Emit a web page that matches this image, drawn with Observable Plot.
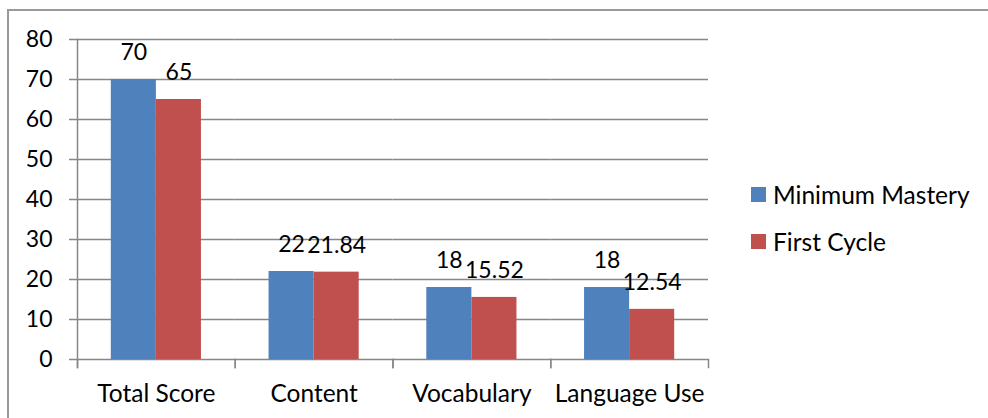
<!DOCTYPE html>
<html>
<head>
<meta charset="utf-8">
<script src="https://cdn.jsdelivr.net/npm/d3@7"></script>
<script src="https://cdn.jsdelivr.net/npm/@observablehq/plot@0.6"></script>
<style>
  html, body { margin: 0; padding: 0; background: #fff; }
  #wrap { position: relative; width: 988px; height: 418px; overflow: hidden; font-family: Lato, "Open Sans", sans-serif; }
  #border { position: absolute; left: 7px; top: 9px; right: -10px; bottom: -10px; border-left: 2px solid #999; border-top: 2px solid #999; }
  #chart { position: absolute; left: 0; top: 0; }
  #legend { position: absolute; left: 751px; top: 180px; font-size: 24.5px; color: #000; }
  .item { display: flex; align-items: center; height: 28px; margin-bottom: 19px; white-space: nowrap; }
  .sw { width: 15px; height: 15px; margin-right: 7px; flex: none; }
</style>
</head>
<body>
<div id="wrap">
  <div id="border"></div>
  <div id="chart"></div>
  <div id="legend"></div>
</div>
<script>
const categories = ["Total Score", "Content", "Vocabulary", "Language Use"];
const series = ["Minimum Mastery", "First Cycle"];
const minimumMastery = [70, 22, 18, 18];
const firstCycle = [65, 21.84, 15.52, 12.54];
const yTicks = [0, 10, 20, 30, 40, 50, 60, 70, 80];
const colors = ["#4F81BD", "#C0504D"];

const seriesValues = [minimumMastery, firstCycle];
const table = [];
categories.forEach((c, i) => {
  series.forEach((s, j) => table.push({category: c, series: s, value: seriesValues[j][i]}));
});

const W = 988, H = 418, mT = 39, mB = 59, mL = 77, mR = 280;
const plotH = H - mT - mB;
const gray = "#878787";

const chart = Plot.plot({
  width: W, height: H,
  marginTop: mT, marginBottom: mB, marginLeft: mL, marginRight: mR,
  style: {fontFamily: "Lato, 'Open Sans', sans-serif", fontSize: "22px", color: "#000", background: "transparent", overflow: "visible"},
  fx: {domain: categories, padding: 0, round: false, label: null, axis: null},
  x: {domain: series, paddingInner: 0, paddingOuter: 0.75, round: false, axis: null},
  y: {domain: [0, 80], axis: null},
  color: {domain: series, range: colors},
  marks: [
    Plot.gridY(yTicks, {stroke: gray, strokeOpacity: 1, strokeWidth: 1.5}),
    Plot.axisY(yTicks, {anchor: "left", tickSize: 8, tickPadding: 17, stroke: gray, strokeWidth: 1.5, fill: "#000", fontSize: 23, label: null}),
    Plot.frame({anchor: "left", stroke: gray, strokeWidth: 1.5, insetTop: plotH, insetBottom: -8}),
    Plot.frame({anchor: "right", stroke: gray, strokeWidth: 1.5, insetTop: plotH, insetBottom: -8}),
    Plot.frame({anchor: "left", facet: "super", stroke: gray, strokeWidth: 1.5, insetBottom: -8}),
    Plot.barY(table, {fx: "category", x: "series", y: "value", fill: "series", inset: 0}),
    Plot.text(table, {fx: "category", x: "series", y: "value", text: d => String(d.value), dy: -27, fontSize: 23, fill: "#000"}),
    Plot.axisFx({anchor: "bottom", tickSize: 0, tickPadding: 25, fontSize: 24.5, fill: "#000", label: null})
  ]
});
document.getElementById("chart").appendChild(chart);

const legend = document.getElementById("legend");
series.forEach((s, i) => {
  const item = document.createElement("div");
  item.className = "item";
  const sw = document.createElement("div");
  sw.className = "sw";
  sw.style.background = colors[i];
  const t = document.createElement("span");
  t.textContent = s;
  item.appendChild(sw);
  item.appendChild(t);
  legend.appendChild(item);
});
</script>
</body>
</html>
